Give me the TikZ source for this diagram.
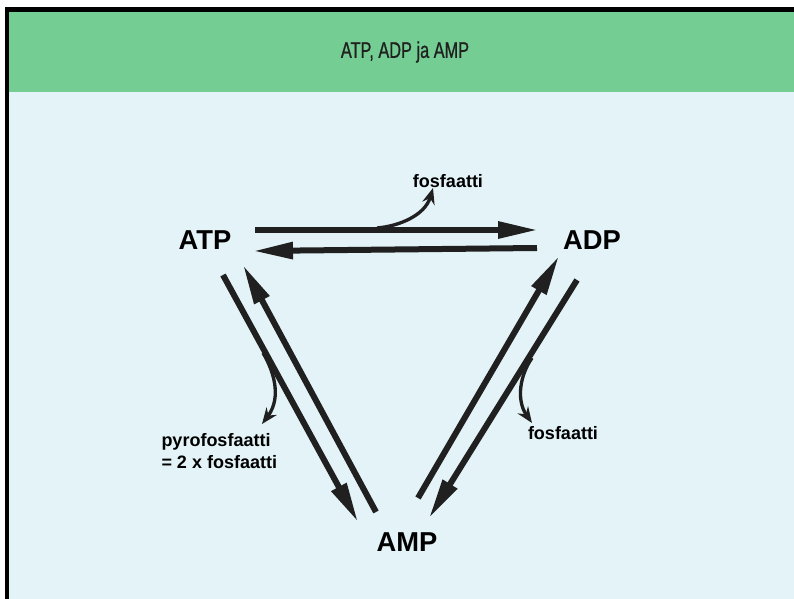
\documentclass[tikz,border=0pt]{standalone}
\usepackage{fontspec}
\setmainfont{Liberation Sans}
\newfontfamily\titlefont[FakeStretch=0.72,FakeBold=0.8]{Liberation Sans}
\usetikzlibrary{arrows.meta}

\definecolor{headgreen}{RGB}{116,206,147}
\definecolor{paleblue}{RGB}{227,243,247}
\definecolor{inkgray}{RGB}{32,32,32}

\tikzset{every picture/.style={line width=0.75pt}}
\tikzset{
	fat/.style={draw=inkgray, line width=4.5pt, -{Triangle[length=30pt,width=12pt]}},
	twig/.style={draw=inkgray, line width=2.5pt, -{Stealth[length=12pt,width=9.5pt,inset=4pt]}},
	big/.style={font=\bfseries\fontsize{20.5}{24}\selectfont, inner sep=0pt},
	small/.style={font=\bfseries\fontsize{13.5}{16.5}\selectfont, inner sep=0pt, align=left},
}

\begin{document}
\begin{tikzpicture}[x=0.75pt,y=0.75pt,yscale=-1,xscale=1]
	\useasboundingbox (0,0) rectangle (794,599);

	%Shape: Frame and panels
	\fill[white] (0,0) rectangle (794,599);
	\fill[black] (5,7) rectangle (794,599);
	\fill[paleblue] (9,12) rectangle (794,599);
	\fill[headgreen] (9,12) rectangle (794,92);

	% Text Node
	\node[text=inkgray] (title) at (405,52) {\titlefont\fontsize{17}{20}\selectfont ATP, ADP ja AMP};

	% Text Node
	\node[big] (atp) at (205,240) {ATP};
	% Text Node
	\node[big] (adp) at (592,240) {ADP};
	% Text Node
	\node[big] (amp) at (407,542) {AMP};

	%Straight Lines: ends
	\coordinate (atpadp-s) at (255,230);
	\coordinate (atpadp-e) at (538,230);
	\coordinate (adpatp-s) at (537,248);
	\coordinate (adpatp-e) at (253,251);
	\coordinate (atpamp-s) at (223,275);
	\coordinate (atpamp-e) at (358,522);
	\coordinate (ampatp-s) at (376,512);
	\coordinate (ampatp-e) at (243,265);
	\coordinate (ampadp-s) at (418,498);
	\coordinate (ampadp-e) at (559,256);
	\coordinate (adpamp-s) at (577,280);
	\coordinate (adpamp-e) at (429,518);

	%Straight Lines
	\draw[fat] (atpadp-s) -- (atpadp-e);
	\draw[fat] (adpatp-s) -- (adpatp-e);
	\draw[fat] (atpamp-s) -- (atpamp-e);
	\draw[fat] (ampatp-s) -- (ampatp-e);
	\draw[fat] (ampadp-s) -- (ampadp-e);
	\draw[fat] (adpamp-s) -- (adpamp-e);

	%Curve Lines: released phosphate
	\coordinate (pi-top) at (377,228);
	\coordinate (pi-left) at (263,353);
	\coordinate (pi-right) at (532,358);
	\draw[twig] (pi-top) .. controls (400,226) and (425,215) .. (433,188);
	\draw[twig] (pi-left) .. controls (272,368) and (283,396) .. (262,424);
	\draw[twig] (pi-right) .. controls (520,375) and (516,400) .. (532,423);

	% Text Node
	\node[small] (fos-top) at (448,181) {fosfaatti};
	% Text Node
	\node[small, anchor=west] (pyro) at (161,451) {pyrofosfaatti\\= 2 x fosfaatti};
	% Text Node
	\node[small] (fos-right) at (563,433) {fosfaatti};

\end{tikzpicture}
\end{document}
